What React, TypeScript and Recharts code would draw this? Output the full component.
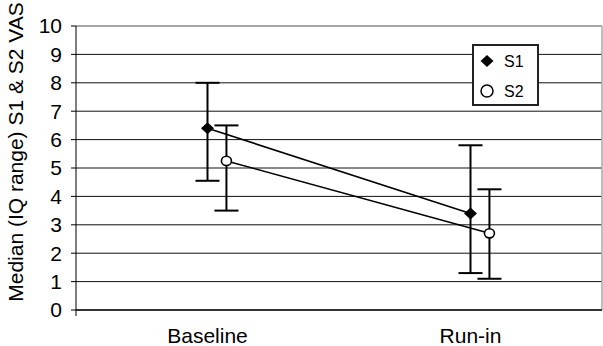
import { LineChart, Line, XAxis, YAxis, CartesianGrid, ErrorBar, ReferenceLine } from 'recharts';

const categories = ['Baseline', 'Run-in'];
const s1Median = [6.4, 3.4];
const s1Q1 = [4.55, 1.3];
const s1Q3 = [8.0, 5.8];
const s2Median = [5.25, 2.7];
const s2Q1 = [3.5, 1.1];
const s2Q3 = [6.5, 4.25];
const yTicks = [0, 1, 2, 3, 4, 5, 6, 7, 8, 9, 10];

// S2 sits a little to the right of S1 so the bars don't overlap
const S2_SHIFT = 0.072;

const s1Data = categories.map((c, i) => ({
    x: i + 0.5,
    y: s1Median[i],
    err: [s1Median[i] - s1Q1[i], s1Q3[i] - s1Median[i]],
}));
const s2Data = categories.map((c, i) => ({
    x: i + 0.5 + S2_SHIFT,
    y: s2Median[i],
    err: [s2Median[i] - s2Q1[i], s2Q3[i] - s2Median[i]],
}));

const FONT = '"Liberation Sans", Arial, sans-serif';

const Diamond = (props: any) => {
    const { cx, cy, index } = props;
    if (cx == null || cy == null) return null;
    return <polygon key={`d-${index}`} points={`${cx - 6.5},${cy} ${cx},${cy - 6} ${cx + 6.5},${cy} ${cx},${cy + 6}`} fill="#000" />;
};

const OpenCircle = (props: any) => {
    const { cx, cy, index } = props;
    if (cx == null || cy == null) return null;
    return <ellipse key={`c-${index}`} cx={cx} cy={cy} rx={5} ry={4.6} fill="#fff" stroke="#000" strokeWidth={1.6} />;
};

const XTick = (props: any) => {
    const { x, y, payload } = props;
    if (payload.value === 0) {
        return <line x1={x} y1={y} x2={x} y2={y + 6} stroke="#000" />;
    }
    const idx = Math.round(payload.value - 0.5);
    return (
        <text x={x} y={y + 33} textAnchor="middle" fontSize={21} fontFamily={FONT} fill="#000">
            {categories[idx]}
        </text>
    );
};

const YLabel = () => (
    <text transform="translate(23,152) rotate(-90)" textAnchor="middle" fontSize={21} fontFamily={FONT} fill="#000">
        Median (IQ range) S1 &amp; S2 VAS
    </text>
);

export default function App() {
    return (
        <div style={{ position: 'absolute', left: 0, top: 0, width: 603, height: 346, background: '#fff' }}>
            <LineChart width={603} height={346} data={s1Data} margin={{ top: 26, right: 1, bottom: 0, left: 0 }}>
                <CartesianGrid vertical={false} horizontalValues={[1, 2, 3, 4, 5, 6, 7, 8, 9]} stroke="#111" />
                <ReferenceLine y={10} stroke="#888" strokeWidth={1.5} />
                <ReferenceLine x={2} stroke="#aaa" strokeWidth={1.5} />
                <XAxis
                    type="number"
                    dataKey="x"
                    domain={[0, 2]}
                    ticks={[0, 0.5, 1.5]}
                    interval={0}
                    tick={<XTick />}
                    tickLine={false}
                    tickSize={0}
                    tickMargin={0}
                    axisLine={{ stroke: '#333', strokeWidth: 2 }}
                    height={36}
                    allowDataOverflow
                />
                <YAxis
                    type="number"
                    domain={[0, 10]}
                    ticks={yTicks}
                    interval={0}
                    width={76}
                    tickSize={5}
                    tickMargin={9}
                    axisLine={{ stroke: '#000' }}
                    tickLine={{ stroke: '#000' }}
                    tick={{ fontSize: 21, fontFamily: FONT, fill: '#000' }}
                    label={<YLabel />}
                />
                <Line data={s1Data} dataKey="y" stroke="#000" strokeWidth={1.6} dot={<Diamond />} activeDot={false} isAnimationActive={false}>
                    <ErrorBar dataKey="err" direction="y" width={12} stroke="#000" strokeWidth={2} />
                </Line>
                <Line data={s2Data} dataKey="y" stroke="#000" strokeWidth={1.6} dot={<OpenCircle />} activeDot={false} isAnimationActive={false}>
                    <ErrorBar dataKey="err" direction="y" width={12} stroke="#000" strokeWidth={2} />
                </Line>
            </LineChart>
            <div style={{ position: 'absolute', left: 472, top: 44, width: 67, height: 62, boxSizing: 'border-box', border: '2px solid #222', background: '#fff' }}>
                <svg width={63} height={58} style={{ display: 'block' }}>
                    <polygon points="6.5,15 13,9 19.5,15 13,21" fill="#000" />
                    <text x={30} y={21} fontSize={16} fontFamily={FONT} fill="#000">S1</text>
                    <circle cx={13} cy={45} r={6} fill="#fff" stroke="#000" strokeWidth={1.5} />
                    <text x={30} y={51} fontSize={16} fontFamily={FONT} fill="#000">S2</text>
                </svg>
            </div>
        </div>
    );
}
